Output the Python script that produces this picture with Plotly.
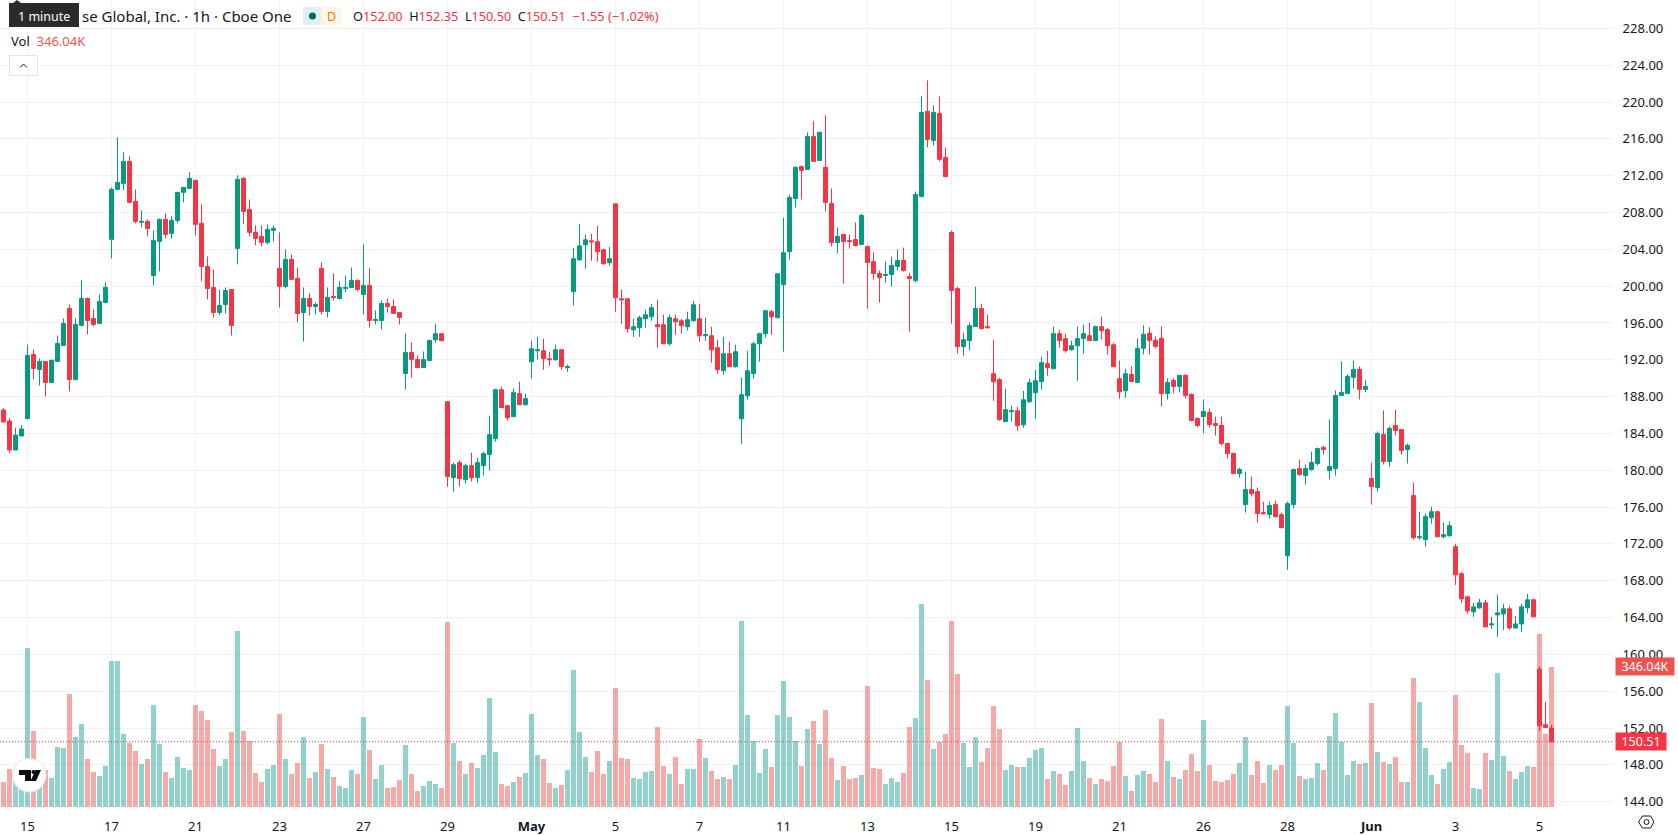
import plotly.graph_objects as go

# Hourly session bars, oldest first
opens = [
    186.54,185.35,182.2,183.72,185.62,192.58,190.95,191.82,189.53,191.82,
    193.56,197.58,189.86,195.73,198.66,196.49,195.95,198.23,205.08,210.51,
    211.16,213.55,209.21,206.93,207.03,201.16,204.86,207.25,205.73,207.14,
    210.19,210.62,211.49,206.82,202.14,199.86,197.14,198.01,199.64,204.1,
    211.71,208.34,205.84,205.4,204.75,206.06,201.93,199.97,202.9,200.84,
    197.14,198.66,197.79,201.93,197.25,198.88,198.66,199.75,199.86,200.62,
    199.1,200.08,196.27,196.27,198.12,197.79,197.14,190.51,192.8,192.03,
    191.16,191.93,194.18,194.83,187.45,179.2,180.83,178.98,180.5,179.2,
    180.5,181.7,183.43,188.75,187.02,185.82,188.32,187.12,191.79,192.98,
    192.98,192.12,192.01,193.09,191.14,199.39,202.86,204.49,204.92,204.82,
    203.95,202.54,208.94,198.63,198.63,195.26,195.48,196.46,196.67,195.81,
    195.81,193.74,196.46,196.24,195.59,196.24,196.46,194.61,194.61,193.31,
    190.81,192.66,191.25,185.6,188.1,190.49,193.74,194.83,197.22,196.57,
    200.15,203.76,209.52,213.0,212.67,216.26,213.65,212.9,208.98,204.74,
    205.61,204.95,205.06,204.52,204.3,202.67,201.37,201.15,201.26,202.13,
    202.78,201.04,200.6,209.74,218.98,215.83,218.77,213.98,205.82,199.73,
    193.43,194.08,195.6,197.56,195.6,190.49,189.84,185.27,186.36,186.47,
    184.94,187.45,188.42,189.62,191.58,191.03,194.84,194.3,193.1,193.53,
    194.3,194.62,194.08,195.6,195.28,193.64,189.95,188.64,190.42,189.54,
    193.25,194.88,194.12,194.33,188.35,189.76,189.11,190.31,188.24,185.63,
    185.84,186.28,185.08,184.86,182.9,181.82,179.64,176.27,177.9,177.68,
    175.4,175.18,176.27,175.18,170.71,176.27,180.18,179.42,180.08,180.73,
    182.47,179.97,180.18,188.13,188.35,190.09,190.96,188.78,179.1,178.12,
    183.88,180.95,184.86,184.43,182.25,177.25,172.67,172.46,174.85,175.5,
    172.78,172.89,171.69,168.76,166.25,164.62,165.06,165.6,163.2,164.29,
    164.4,164.95,162.88,163.31,165.06,165.93,158.4,152.36,152.00,
]
closes = [
    185.24,182.2,183.83,184.48,192.47,191.06,191.82,189.53,191.93,193.77,
    195.95,189.86,195.84,198.66,196.27,195.84,198.34,199.86,210.51,211.27,
    213.55,209.1,207.03,207.03,206.27,204.97,207.25,205.62,207.14,210.19,
    210.73,211.71,206.71,202.14,199.75,197.14,197.9,199.53,195.73,211.6,
    208.12,205.84,205.19,204.75,206.16,206.27,199.97,202.9,200.73,197.03,
    198.66,197.79,198.01,197.25,198.77,198.77,199.86,199.86,200.62,199.64,
    200.08,196.27,196.38,198.12,197.79,197.03,196.6,192.8,192.03,191.16,
    192.03,194.1,194.83,194.07,179.31,180.61,179.09,180.5,179.2,180.83,
    181.81,183.87,188.75,186.8,185.71,188.43,187.12,187.78,193.2,193.09,
    192.12,192.01,193.09,191.25,191.25,202.97,204.38,205.03,204.82,203.73,
    202.43,202.97,198.74,198.52,195.37,195.59,196.57,196.89,197.65,195.59,
    193.74,196.57,196.13,195.7,196.35,197.98,194.61,194.72,193.09,190.92,
    192.66,191.25,192.88,188.21,190.81,193.74,194.83,197.33,196.67,201.34,
    203.62,209.63,212.9,212.57,216.26,213.55,216.7,209.09,204.74,205.39,
    204.85,204.85,204.41,207.67,202.56,201.37,200.93,201.26,202.24,202.78,
    201.69,200.82,209.96,218.87,215.94,218.87,213.76,211.91,199.52,193.43,
    194.19,195.71,197.56,195.38,195.49,189.62,185.49,186.58,186.47,184.84,
    187.66,189.51,189.73,191.69,191.14,194.84,194.08,192.99,193.53,194.3,
    194.84,194.08,195.6,195.17,193.53,191.25,188.53,190.49,189.65,193.25,
    194.77,194.12,193.46,188.35,189.54,189.11,190.31,188.13,185.41,184.86,
    186.39,184.97,184.86,182.9,181.82,179.64,180.08,177.9,177.46,175.29,
    175.29,176.16,174.96,173.76,176.38,180.08,179.53,180.18,180.84,182.36,
    182.25,180.4,188.13,188.46,190.2,190.96,188.78,189.11,178.22,183.99,
    180.95,184.54,184.32,182.14,182.69,172.67,172.78,174.96,175.5,172.78,
    173.0,173.98,168.65,166.03,164.73,165.16,165.6,162.99,163.31,164.51,
    164.95,162.88,163.31,165.16,165.93,164.08,152.25,152.06,150.51,
]
highs = [
    186.76,185.68,184.6,184.92,193.66,193.12,192.14,191.82,192.03,194.64,
    196.49,198.01,196.49,200.62,198.77,197.47,199.1,200.4,210.73,216.16,
    214.53,214.1,210.51,208.23,207.25,206.06,207.36,207.9,207.58,210.19,
    210.73,212.36,211.49,208.88,203.23,201.82,199.64,199.86,199.64,212.03,
    211.82,209.42,206.6,206.6,206.71,206.6,205.84,203.99,203.45,202.03,
    199.86,199.21,198.23,202.58,199.86,201.38,200.51,201.16,202.03,200.73,
    204.53,201.93,197.36,198.45,198.66,198.56,197.14,194.86,193.88,192.47,
    192.9,194.21,195.92,194.83,187.45,180.83,181.05,180.72,181.91,181.37,
    182.02,185.93,188.86,189.08,187.02,188.86,189.62,188.32,194.07,194.5,
    194.29,192.88,193.64,193.2,191.47,204.16,206.77,205.58,205.68,206.55,
    204.06,204.27,208.94,199.61,198.63,196.46,196.78,197.43,198.09,198.52,
    196.89,196.89,196.89,196.46,197.22,198.41,198.09,196.57,195.59,194.18,
    194.5,193.96,193.64,190.05,192.98,193.96,194.94,197.43,197.43,201.34,
    207.42,209.96,213.0,213.11,216.7,217.9,216.81,218.55,210.61,206.37,
    205.61,205.61,206.91,207.89,204.41,203.65,201.69,202.67,203.21,203.98,
    204.19,201.47,210.28,220.61,222.35,219.63,220.61,215.07,206.04,199.95,
    194.95,196.04,199.95,198.1,196.91,194.19,190.05,188.86,187.01,186.9,
    188.64,189.95,190.93,192.34,192.99,195.6,195.28,194.84,194.08,195.6,
    195.82,196.04,195.71,196.69,195.49,193.86,191.9,191.03,191.29,194.33,
    195.75,195.53,194.55,195.64,189.98,189.98,190.31,190.42,188.35,185.74,
    187.69,186.71,185.84,185.84,183.01,181.93,180.29,179.86,179.31,178.12,
    176.59,176.59,176.7,175.4,176.59,180.18,181.16,180.62,182.03,182.47,
    182.69,185.52,188.67,191.83,190.42,191.94,191.29,189.76,180.84,184.21,
    186.5,184.76,186.6,184.43,182.9,178.66,175.5,175.29,176.05,175.61,
    174.31,174.42,172.02,168.97,166.36,165.6,166.03,165.93,164.08,166.47,
    165.49,165.27,164.18,165.49,166.58,166.03,158.7,154.85,152.35,
]
lows = [
    185.24,181.88,182.2,183.72,185.51,189.86,189.21,188.01,189.53,191.82,
    193.56,188.56,189.75,195.62,194.75,195.62,195.95,198.12,203.01,210.51,
    210.4,208.99,206.82,206.38,205.4,200.08,201.6,205.19,205.19,206.82,
    209.1,210.51,205.51,200.51,198.56,196.6,196.82,197.03,194.64,202.36,
    206.71,205.4,204.43,204.32,204.53,204.86,197.69,199.75,200.73,196.06,
    193.99,196.82,196.93,196.93,196.6,198.45,198.56,199.32,199.86,199.43,
    196.93,195.51,195.84,195.29,197.14,197.03,195.84,188.77,190.08,191.06,
    191.16,191.93,193.85,194.07,178.22,177.68,178.22,178.55,178.77,178.66,
    179.42,179.96,183.11,186.8,185.39,185.82,187.12,187.02,189.95,192.01,
    190.92,191.36,191.9,190.92,190.7,197.87,202.75,201.89,202.75,202.65,
    202.32,202.21,197.22,195.92,194.94,194.5,194.5,195.48,196.24,193.31,
    193.74,193.53,194.72,194.83,195.16,196.13,193.96,194.07,191.68,190.49,
    190.38,191.25,191.14,182.89,187.67,189.95,191.79,194.4,194.72,196.57,
    192.88,202.89,208.54,209.41,212.67,213.55,213.65,208.11,204.3,203.54,
    200.28,204.08,204.3,204.52,197.56,200.71,198.21,200.39,199.95,201.69,
    201.58,195.06,200.39,209.63,215.07,215.29,213.55,211.8,195.93,192.67,
    192.45,192.99,195.6,195.28,195.38,187.55,185.38,185.27,185.27,184.29,
    184.62,187.34,185.59,188.75,190.27,191.03,193.32,192.77,192.99,189.73,
    192.67,194.08,194.08,194.19,192.56,191.25,187.77,187.88,189.65,189.44,
    192.59,192.59,193.25,186.93,187.69,188.35,188.46,187.8,185.3,184.65,
    184.0,184.65,183.78,182.69,181.27,179.64,179.2,175.4,177.14,174.31,
    175.18,174.74,174.85,173.76,169.19,175.83,179.42,178.44,179.97,180.51,
    181.71,178.99,179.42,188.13,188.35,188.89,187.69,188.46,176.27,177.68,
    180.62,180.4,183.78,181.71,180.73,172.46,172.46,171.7,174.2,172.78,
    172.57,172.78,167.56,165.6,164.4,164.08,164.95,162.99,162.77,161.9,
    162.66,162.66,162.77,162.44,164.51,164.08,151.7,151.96,150.50,
]
# Traded volume per bar, in thousands of shares
volumes = [
    61.8,93.9,75,80,393.0,187.9,66.7,91.5,71.7,148.3,
    145.8,279.3,173.0,205.2,118.7,86.5,76.6,101.4,360.9,360.9,
    180.5,158.2,138.4,106.3,118.7,252.1,155.7,86.5,71.7,123.6,
    96.4,91.5,252.1,237.3,215.1,143.4,101.4,118.7,185.4,435.1,
    187.9,163.2,84.0,61.8,93.9,103.8,229.9,118.7,81.6,108.8,
    173.0,71.7,86.5,155.7,93.9,74.2,51.9,47.0,91.5,81.6,
    222.5,140.9,69.2,103.8,47.0,49.4,66.7,153.3,81.6,39.6,
    51.9,64.3,56.9,47.0,457.3,158.2,113.7,81.6,108.8,96.4,
    128.5,269.4,136.0,56.9,51.9,61.8,74.2,84.0,229.9,128.5,
    118.7,59.3,47.0,54.4,91.5,338.7,185.4,123.6,86.5,138.4,
    81.6,113.7,294.2,121.1,118.7,71.7,69.2,86.5,89.0,197.8,
    101.4,81.6,123.6,56.9,93.9,93.9,168.1,121.1,89.0,69.2,
    74.2,69.2,103.8,459.8,227.4,163.2,84.0,143.4,98.9,227.4,
    311.5,222.5,163.2,101.4,192.8,212.6,155.7,239.8,121.1,66.7,
    101.4,69.2,71.7,79.1,299.1,96.4,93.9,56.9,71.7,61.8,
    84.0,197.8,220.0,500.2,313.9,143.4,160.7,180.5,459.8,328.8,
    158.2,98.9,173.0,111.2,145.8,249.7,192.8,91.5,103.8,98.9,
    98.9,121.1,140.9,145.8,69.2,89.0,81.6,54.4,89.0,195.3,
    113.7,71.7,56.9,69.2,64.3,101.4,160.7,76.6,39.6,79.1,
    89.0,81.6,61.8,217.5,113.7,74.2,69.2,91.5,131.0,89.0,
    215.1,103.8,64.3,61.8,66.7,81.6,108.8,173.0,79.1,113.7,
    59.3,103.8,91.5,103.8,249.7,158.2,76.6,69.2,71.7,108.8,
    91.5,175.5,232.4,160.7,79.1,113.7,106.3,108.8,257.1,136.0,
    111.2,106.3,123.6,61.8,61.8,318.9,259.6,145.8,79.1,56.9,
    93.9,111.2,276.9,153.3,133.5,47.0,44.5,133.5,116.2,331.2,
    126.1,89.0,69.2,86.5,101.4,98.9,427.7,180.5,346.04,
]
date_labels = ["15","17","21","23","27","29","<b>May</b>","5","7","11","13","15",
               "19","21","26","28","<b>Jun</b>","3","5"]
date_bars = [4,18,32,46,60,74,88,102,116,130,144,158,172,186,200,214,228,242,256]
price_ticks = [144,148,152,156,160,164,168,172,176,180,184,188,192,196,200,204,
               208,212,216,220,224,228]

FONT = "Noto Sans"
UP, DOWN = "#089981", "#F23645"
VOL_UP, VOL_DOWN = "rgba(38,166,154,0.5)", "rgba(239,83,80,0.5)"
W, H = 1678, 835
PLOT_W, PLOT_H = 1613, 811
bars = list(range(len(opens)))


def px(x):
    return x / PLOT_W


def py(y):
    return 1 - y / PLOT_H


def box(x0, y0, x1, y1, **kw):
    return dict(type="rect", xref="paper", yref="paper", x0=px(x0), x1=px(x1),
                y0=py(y0), y1=py(y1), layer="above", **kw)


def poly(points, **kw):
    d = "M" + " L".join(f"{px(a):.5f},{py(b):.5f}" for a, b in points) + " Z"
    return dict(type="path", xref="paper", yref="paper", path=d, layer="above", **kw)


fig = go.Figure()
fig.add_trace(go.Bar(
    x=bars, y=volumes, yaxis="y", width=0.84,
    marker=dict(color=[VOL_UP if c >= o else VOL_DOWN for o, c in zip(opens, closes)],
                line_width=0),
    hoverinfo="skip", showlegend=False))
fig.add_trace(go.Candlestick(
    x=bars, open=opens, high=highs, low=lows, close=closes, yaxis="y2",
    increasing=dict(line=dict(color=UP, width=1), fillcolor=UP),
    decreasing=dict(line=dict(color=DOWN, width=1), fillcolor=DOWN),
    whiskerwidth=0, showlegend=False))

shapes = [
    # last-price line
    dict(type="line", xref="paper", yref="y2", x0=0, x1=1, y0=closes[-1], y1=closes[-1],
         line=dict(color=DOWN, width=1, dash="1px,2px"), layer="above"),
    # status pills
    box(303, 7, 321, 25, fillcolor="#dff1ee", line_width=0),
    box(321, 7, 341, 25, fillcolor="#fff6ea", line_width=0),
    dict(type="circle", xref="paper", yref="paper", x0=px(309), x1=px(316),
         y0=py(12.5), y1=py(19.5), fillcolor="#056656", line_width=0, layer="above"),
    # collapse button
    box(9.5, 55.5, 37.5, 75.5, fillcolor="#ffffff", line=dict(color="#e0e3eb", width=1)),
    dict(type="path", xref="paper", yref="paper", layer="above",
         path=f"M{px(20)},{py(67.5)} L{px(23.5)},{py(64)} L{px(27)},{py(67.5)}",
         line=dict(color="#131722", width=1)),
    # tooltip
    box(9, 3, 79, 27, fillcolor="#2a2a2a", line_width=0),
    poly([(13, 3), (17, 0), (21, 3)], fillcolor="#2a2a2a", line_width=0),
    # chart badge
    dict(type="circle", xref="paper", yref="paper", x0=px(12.5), x1=px(46), y0=py(758.5),
         y1=py(792), fillcolor="#ffffff", line=dict(color="#e6e6e6", width=1), layer="above"),
    poly([(19, 770), (31, 770), (31, 781), (25, 781), (25, 775), (19, 775)], fillcolor="#0c0c0c", line_width=0),
    dict(type="circle", xref="paper", yref="paper", x0=px(31.5), x1=px(35.5), y0=py(770),
         y1=py(774), fillcolor="#0c0c0c", line_width=0, layer="above"),
    poly([(35.5, 770), (41, 770), (36, 781), (30.5, 781)], fillcolor="#0c0c0c", line_width=0),
    # settings glyph
    poly([(1638.5, 822), (1642.5, 816), (1650.5, 816), (1654, 822), (1650.5, 828), (1642.5, 828)],
         fillcolor="rgba(0,0,0,0)", line=dict(color="#131722", width=1)),
    dict(type="circle", xref="paper", yref="paper", x0=px(1644), x1=px(1649), y0=py(819.5),
         y1=py(824.5), line=dict(color="#131722", width=1), layer="above"),
]


def legend_text(x, y, text, size=13, color="#131722", anchor="left"):
    return dict(xref="paper", yref="paper", x=px(x), y=py(y), text=text, showarrow=False,
                xanchor=anchor, yanchor="middle", font=dict(family=FONT, size=size, color=color))


def tinted(s):
    return f"<span style='color:{DOWN}'>{s}</span>"


change = closes[-1] - closes[-2]
change_pct = change / closes[-2] * 100
ohlc_text = (f"O{tinted(f'{opens[-1]:.2f}')}  H{tinted(f'{highs[-1]:.2f}')}  "
             f"L{tinted(f'{lows[-1]:.2f}')}  C{tinted(f'{closes[-1]:.2f}')}  "
             + tinted(f"\u2212{abs(change):.2f} (\u2212{abs(change_pct):.2f}%)"))

annotations = [
    legend_text(294, 16, "se Global, Inc. \u00b7 1h \u00b7 Cboe One", size=15, anchor="right"),
    legend_text(331, 16, "D", size=12.5, color="#f57c00", anchor="center"),
    legend_text(351, 16, ohlc_text, size=12.7),
    legend_text(9, 41, f"Vol  <span style='color:#EF5350'>{volumes[-1]:.2f}K</span>", size=13),
    legend_text(44, 16, "1 minute", size=12.5, color="#ffffff", anchor="center"),
    # axis tags for the latest values
    dict(xref="paper", yref="y", x=1, y=volumes[-1], xshift=2, xanchor="left", yanchor="middle",
         text=f"{volumes[-1]:.2f}K", showarrow=False, bgcolor="#EF5350", width=54, height=13,
         borderpad=2, font=dict(family=FONT, size=12.5, color="#ffffff")),
    dict(xref="paper", yref="y2", x=1, y=closes[-1], xshift=2, xanchor="left", yanchor="middle",
         text=f"{closes[-1]:.2f}", showarrow=False, bgcolor=DOWN, width=46, height=13,
         borderpad=2, font=dict(family=FONT, size=12.5, color="#ffffff")),
]

# Axis ranges chosen so one bar takes 6px and one dollar about 9.2px
fig.update_layout(
    width=W, height=H, autosize=False,
    margin=dict(l=0, r=W - PLOT_W, t=0, b=H - PLOT_H, pad=0),
    paper_bgcolor="#ffffff", plot_bgcolor="#ffffff",
    font=dict(family=FONT, size=13, color="#131722"),
    boxgap=0.33, boxgroupgap=0, bargap=0,
    xaxis=dict(range=[-0.583, 268.25], rangeslider_visible=False, tickmode="array",
               tickvals=date_bars, ticktext=date_labels, ticks="outside", ticklen=3,
               tickcolor="#ffffff", showgrid=True, gridcolor="#f0f1f3", gridwidth=1,
               zeroline=False, showline=False, tickfont=dict(family=FONT, size=13, color="#131722")),
    yaxis=dict(range=[-10.6, 1993.8], showgrid=False, zeroline=False, showticklabels=False,
               showline=False, ticks=""),
    yaxis2=dict(range=[142.99, 231.08], overlaying="y", side="right", tickmode="array",
                tickvals=price_ticks, ticktext=[f"{t:.2f}" for t in price_ticks],
                showgrid=True, gridcolor="#f0f1f3", gridwidth=1, zeroline=False, showline=False,
                ticks="outside", ticklen=6, tickcolor="#ffffff",
                tickfont=dict(family=FONT, size=13, color="#131722")),
    shapes=shapes, annotations=annotations, showlegend=False, hovermode=False,
)
fig.write_html("out.html", config={"displayModeBar": False})
